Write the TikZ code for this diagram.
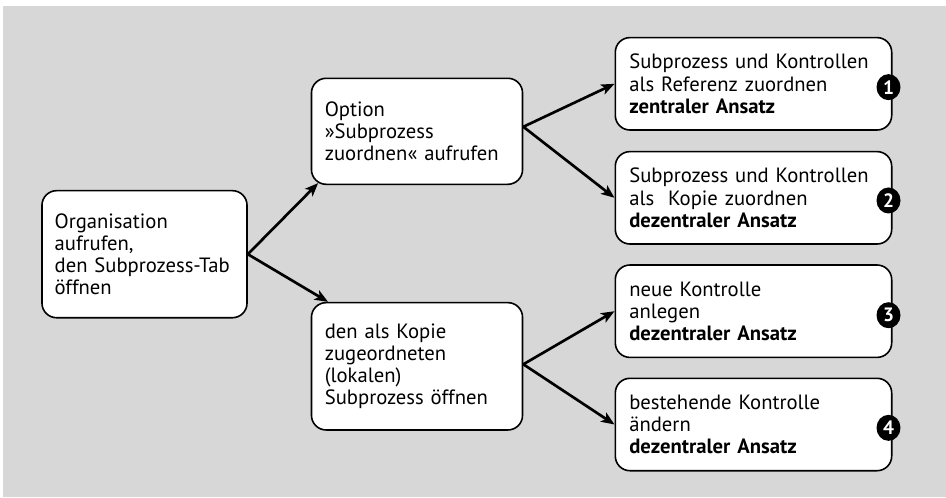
\documentclass[tikz,border=0pt]{standalone}
\usepackage{fontspec}
\setmainfont{PT Sans}
\usetikzlibrary{arrows.meta,shapes.geometric}

\definecolor{panel}{HTML}{D7D7D7}

\tikzset{
  box/.style n args={4}{draw=black, line width=1.2pt, fill=white,
    rounded corners=11pt, align=left, anchor=center,
    text width=#1-2*#3, minimum width=#1, minimum height=#2,
    inner xsep=#3, inner ysep=0pt, #4,
    font=\fontsize{15.5}{16.6}\selectfont},
  stepnum/.style={ellipse, fill=black, text=white, inner sep=0pt,
    minimum width=18pt, minimum height=19.5pt,
    font=\fontsize{14.5}{14.5}\selectfont\bfseries},
  flow/.style={line width=2pt,
    -{Stealth[length=10pt,width=8pt,inset=2.5pt]}}
}

\begin{document}
\begin{tikzpicture}[x=0.75pt,y=-0.75pt]
  % canvas and grey panel
  \useasboundingbox (0,0) rectangle (946,497);
  \fill[white] (0,0) rectangle (946,497);
  \fill[panel] (3,6) rectangle (946,497);

  % first step
  \node[box={153.8pt}{95.3pt}{9.5pt}{}] (org) at (144.5,254.2)
    {Organisation\\aufrufen,\\den Subprozess-Tab\\öffnen};

  % second level
  \node[box={158.3pt}{79.5pt}{10pt}{}] (opt) at (417,131.3)
    {Option\\»Subprozess\\zuordnen« aufrufen};
  \node[box={158.3pt}{95.5pt}{10pt}{}] (kop) at (417,366.3)
    {den als Kopie\\zugeordneten\\(lokalen)\\Subprozess öffnen};

  % third level
  \node[box={207.3pt}{69.3pt}{10.5pt}{}] (r1) at (753.5,83.8)
    {Subprozess und Kontrollen\\als Referenz zuordnen\\\textbf{zentraler Ansatz}};
  \node[box={207.3pt}{69.3pt}{10.5pt}{}] (r2) at (753.5,197.8)
    {Subprozess und Kontrollen\\als\ \ Kopie zuordnen\\\textbf{dezentraler Ansatz}};
  \node[box={207.3pt}{69.3pt}{10.5pt}{}] (r3) at (753.5,311.2)
    {neue Kontrolle\\anlegen\\\textbf{dezentraler Ansatz}};
  \node[box={207.3pt}{69.3pt}{10.5pt}{}] (r4) at (753.5,424.5)
    {bestehende Kontrolle\\ändern\\\textbf{dezentraler Ansatz}};

  % step numbers on the right edges
  \node[stepnum] (n1) at ([xshift=-3pt,yshift=-2.5pt]r1.east) {1};
  \node[stepnum] (n2) at ([xshift=-3pt,yshift=-2pt]r2.east) {2};
  \node[stepnum] (n3) at ([xshift=-3pt,yshift=-3pt]r3.east) {3};
  \node[stepnum] (n4) at ([xshift=-3pt,yshift=-2.5pt]r4.east) {4};

  % connectors
  \draw[flow] (org.east) -- ([xshift=5.6pt,yshift=1.5pt]opt.south west);
  \draw[flow] (org.east) -- ([xshift=13pt]kop.north west);
  \draw[flow] ([yshift=3.4pt]opt.east) -- (r1.west);
  \draw[flow] ([yshift=3.4pt]opt.east) -- (r2.west);
  \draw[flow] ([yshift=1.5pt]kop.east) -- (r3.west);
  \draw[flow] ([yshift=1.5pt]kop.east) -- (r4.west);
\end{tikzpicture}
\end{document}
